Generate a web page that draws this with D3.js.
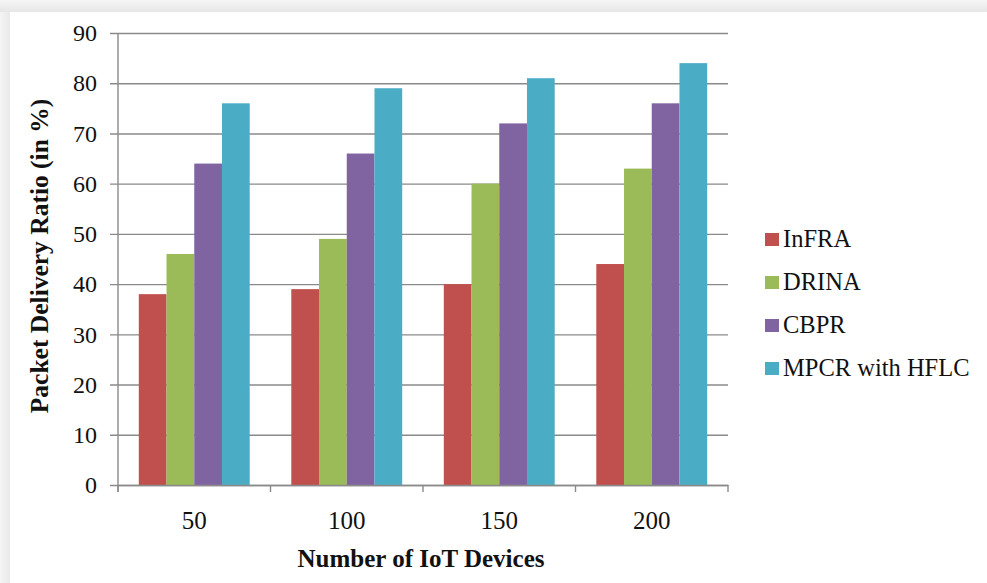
<!DOCTYPE html>
<html>
<head>
<meta charset="utf-8">
<script src="https://cdn.jsdelivr.net/npm/d3@7"></script>
<style>
  html, body { margin: 0; padding: 0; background: #f2f2f2; }
  svg { display: block; }
  text { font-family: "Liberation Serif", "Times New Roman", serif; fill: #111; }
</style>
</head>
<body>
<svg id="chart" width="987" height="583"></svg>
<script>
// Packet delivery ratio by number of IoT devices
const categories = ["50", "100", "150", "200"];
const seriesNames = ["InFRA", "DRINA", "CBPR", "MPCR with HFLC"];
const seriesColors = ["#C0504D", "#9BBB59", "#8064A2", "#4BACC6"];
const infra = [38, 39, 40, 44];
const drina = [46, 49, 60, 63];
const cbpr = [64, 66, 72, 76];
const mpcr = [76, 79, 81, 84];
const yTicks = [0, 10, 20, 30, 40, 50, 60, 70, 80, 90];

const seriesValues = [infra, drina, cbpr, mpcr];

const svg = d3.select("#chart");
const W = 987, H = 583;

// page backdrop: soft grey frame with a white sheet
const defs = svg.append("defs");
const topGrad = defs.append("linearGradient").attr("id", "topShade")
  .attr("x1", 0).attr("y1", 0).attr("x2", 0).attr("y2", 1);
topGrad.append("stop").attr("offset", "0%").attr("stop-color", "#f6f6f6");
topGrad.append("stop").attr("offset", "100%").attr("stop-color", "#e6e6e6");
const leftGrad = defs.append("linearGradient").attr("id", "leftShade")
  .attr("x1", 0).attr("y1", 0).attr("x2", 1).attr("y2", 0);
leftGrad.append("stop").attr("offset", "0%").attr("stop-color", "#f4f4f4");
leftGrad.append("stop").attr("offset", "100%").attr("stop-color", "#e9e9e9");

svg.append("rect").attr("width", W).attr("height", H).attr("fill", "#f2f2f2");
svg.append("rect").attr("x", 0).attr("y", 0).attr("width", W).attr("height", 12).attr("fill", "url(#topShade)");
svg.append("rect").attr("x", 0).attr("y", 12).attr("width", 10).attr("height", H - 12).attr("fill", "url(#leftShade)");
svg.append("rect").attr("x", 10).attr("y", 12).attr("width", W - 10).attr("height", H - 12).attr("fill", "#ffffff");

const plot = { left: 118, right: 728, top: 33, bottom: 485 };

const x0 = d3.scaleBand().domain(categories).range([plot.left, plot.right]).paddingInner(0).paddingOuter(0);
// bars fill 4/5.5 of each category slot (gap = 1.5 bar widths)
const inner = x0.bandwidth() * 4 / 5.5;
const x1 = d3.scaleBand().domain(seriesNames).range([0, inner]).padding(0);
const y = d3.scaleLinear().domain([0, 90]).range([plot.bottom, plot.top]);

const gridColor = "#8a8a8a";

// horizontal gridlines with outward tick marks
const yAxis = d3.axisLeft(y).tickValues(yTicks).tickSize(-(plot.right - plot.left)).tickPadding(21)
  .tickFormat(d3.format("d"));
const gy = svg.append("g").attr("transform", `translate(${plot.left},0)`).call(yAxis);
gy.select(".domain").remove();
gy.selectAll(".tick line").attr("stroke", gridColor).attr("stroke-width", 1.4).attr("x1", -8);
gy.selectAll(".tick text").attr("font-size", 24).attr("fill", "#1a1a1a")
  .style("font-family", "'Liberation Serif', serif");

// bars
const groups = svg.append("g").selectAll("g").data(categories).join("g")
  .attr("transform", c => `translate(${x0(c) + (x0.bandwidth() - inner) / 2},0)`);
groups.selectAll("rect")
  .data((c, ci) => seriesNames.map((s, si) => ({ s, si, v: seriesValues[si][ci] })))
  .join("rect")
  .attr("x", d => x1(d.s))
  .attr("width", x1.bandwidth())
  .attr("y", d => y(d.v))
  .attr("height", d => y(0) - y(d.v))
  .attr("fill", d => seriesColors[d.si]);

// vertical axis line
svg.append("line").attr("x1", plot.left).attr("x2", plot.left)
  .attr("y1", plot.top).attr("y2", plot.bottom + 7)
  .attr("stroke", gridColor).attr("stroke-width", 1.4);

// category axis with ticks between groups
const xAxis = d3.axisBottom(x0).tickSize(0).tickPadding(26);
const gx = svg.append("g").attr("transform", `translate(0,${plot.bottom})`).call(xAxis);
gx.select(".domain").attr("stroke", gridColor).attr("stroke-width", 1.4);
gx.selectAll(".tick text").attr("font-size", 25).attr("fill", "#1a1a1a");
const edges = categories.map(c => x0(c)).concat([x0(categories[categories.length - 1]) + x0.bandwidth()]);
gx.selectAll("line.sep").data(edges).join("line").attr("class", "sep")
  .attr("x1", d => d).attr("x2", d => d).attr("y1", 0).attr("y2", 7)
  .attr("stroke", gridColor).attr("stroke-width", 1.4);

// axis titles
svg.append("text")
  .attr("x", (plot.left + plot.right) / 2 - 2).attr("y", 567)
  .attr("text-anchor", "middle").attr("font-size", 25).attr("font-weight", "bold")
  .text("Number of IoT Devices");
svg.append("text")
  .attr("transform", `translate(48,${(plot.top + plot.bottom) / 2 - 3}) rotate(-90)`)
  .attr("text-anchor", "middle").attr("font-size", 25.5).attr("font-weight", "bold")
  .text("Packet Delivery Ratio (in %)");

// legend
const legend = svg.append("g").attr("transform", "translate(765,239)");
const item = legend.selectAll("g").data(seriesNames).join("g")
  .attr("transform", (d, i) => `translate(0,${i * 43})`);
item.append("rect").attr("x", 0).attr("y", -6).attr("width", 14).attr("height", 13)
  .attr("fill", (d, i) => seriesColors[i]);
item.append("text").attr("x", 18).attr("y", 8).attr("font-size", 24.5).attr("fill", "#111")
  .text(d => d);
</script>
</body>
</html>
